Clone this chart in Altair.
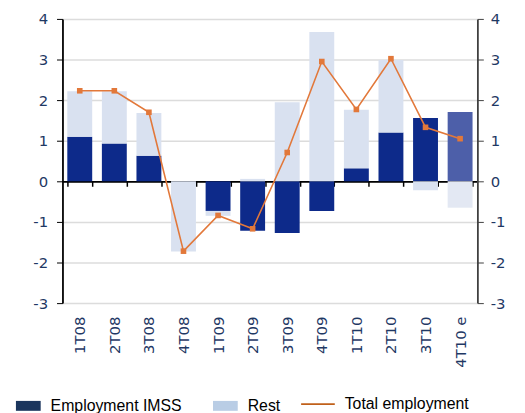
import altair as alt
import pandas as pd

categories = ['1T08', '2T08', '3T08', '4T08', '1T09', '2T09', '3T09', '4T09',
              '1T10', '2T10', '3T10', '4T10 e']
imss = [1.10, 0.93, 0.63, 0.0, -0.73, -1.22, -1.27, -0.73, 0.32, 1.20, 1.56, 1.71]
rest = [1.12, 1.29, 1.05, -1.73, -0.12, 0.06, 1.95, 3.68, 1.44, 1.79, -0.22, -0.65]
total = [2.23, 2.23, 1.70, -1.72, -0.84, -1.17, 0.71, 2.95, 1.77, 3.02, 1.33, 1.05]
legend_bars = ['Employment IMSS', 'Rest']
legend_line = ['Total employment']

W, H = 419, 287
NAVY = '#1f3864'

rows = []
for i, c in enumerate(categories):
    est = c.endswith('e')
    rows.append({'cat': c, 'value': imss[i], 'kind': 'IMSS e' if est else 'IMSS', 'ord': 0})
    rows.append({'cat': c, 'value': rest[i], 'kind': 'Rest e' if est else 'Rest', 'ord': 1})
bars_df = pd.DataFrame(rows)
line_df = pd.DataFrame({'cat': categories, 'total': total})

yscale = alt.Scale(domain=[-3, 4], nice=False, zero=False)
xscale = alt.Scale(paddingInner=0.28)
ylabel = "'' + datum.value"

bars = alt.Chart(bars_df).mark_bar().encode(
    x=alt.X('cat:N', sort=categories, scale=xscale, title=None,
            axis=alt.Axis(orient='bottom', offset=-round(H * 3 / 7), labelAngle=-90,
                          tickBand='extent', domainColor='#000000', domainWidth=1.8,
                          tickColor='#000000', tickSize=5, tickWidth=1.5,
                          labelPadding=131, labelFont='DejaVu Sans', labelFontSize=15,
                          labelColor=NAVY, grid=False)),
    y=alt.Y('value:Q', stack='zero', scale=yscale, title=None,
            axis=alt.Axis(orient='left', values=list(range(-3, 5)), grid=True,
                          gridColor='#dcdcdc', gridWidth=1.5, domainColor='#000000',
                          domainWidth=1.8, tickColor='#000000', tickSize=6,
                          labelPadding=9, labelFont='DejaVu Sans', labelFontSize=15,
                          labelColor=NAVY, labelExpr=ylabel)),
    color=alt.Color('kind:N', legend=None,
                    scale=alt.Scale(domain=['IMSS', 'Rest', 'IMSS e', 'Rest e'],
                                    range=['#0d2a8a', '#d9e1f0', '#4d5fa9', '#e3e8f3'])),
    order=alt.Order('ord:Q'),
)

line = alt.Chart(line_df).mark_line(
    color='#e2783a', strokeWidth=1.6,
    point=alt.OverlayMarkDef(shape='square', size=32, color='#e2783a', filled=True),
).encode(
    x=alt.X('cat:N', sort=categories, scale=xscale),
    y=alt.Y('total:Q', scale=yscale, title=None,
            axis=alt.Axis(orient='right', values=list(range(-3, 5)), grid=False,
                          domainColor='#404040', domainWidth=1.8, tickColor='#404040',
                          tickSize=6, labelPadding=7, labelFont='DejaVu Sans',
                          labelFontSize=15, labelColor=NAVY, labelExpr=ylabel)),
)

leg1 = alt.Chart(pd.DataFrame({'name': legend_bars})).mark_square(opacity=1).encode(
    fill=alt.Fill('name:N',
                  scale=alt.Scale(domain=legend_bars, range=['#1b365d', '#b9cde5']),
                  legend=alt.Legend(title=None, orient='none', legendX=-47, legendY=378,
                                    direction='horizontal',
                                    symbolType='M-1,-0.4H1V0.4H-1Z', symbolSize=625,
                                    symbolStrokeWidth=0, symbolOpacity=1,
                                    labelFont='Liberation Sans',
                                    labelFontSize=16, labelColor='#000000',
                                    labelOffset=10, columnPadding=31))
).transform_filter('false')

leg2 = alt.Chart(pd.DataFrame({'name': legend_line})).mark_line(opacity=1).encode(
    stroke=alt.Stroke('name:N',
                      scale=alt.Scale(domain=legend_line, range=['#c0601a']),
                      legend=alt.Legend(title=None, orient='none', legendX=240, legendY=371,
                                        symbolType='stroke', symbolSize=1156,
                                        symbolStrokeWidth=2, symbolOpacity=1,
                                        labelFont='Liberation Sans',
                                        labelFontSize=16, labelColor='#000000',
                                        labelOffset=9))
).transform_filter('false')

chart = alt.layer(bars, line, leg1, leg2).resolve_axis(y='independent').properties(
    width=W, height=H,
    autosize=alt.AutoSizeParams(type='none'),
    padding={'left': 55, 'top': 9, 'right': 40, 'bottom': 115},
).configure_view(stroke=None)

chart.save("out.html", embed_options={"renderer": "svg", "actions": False})
